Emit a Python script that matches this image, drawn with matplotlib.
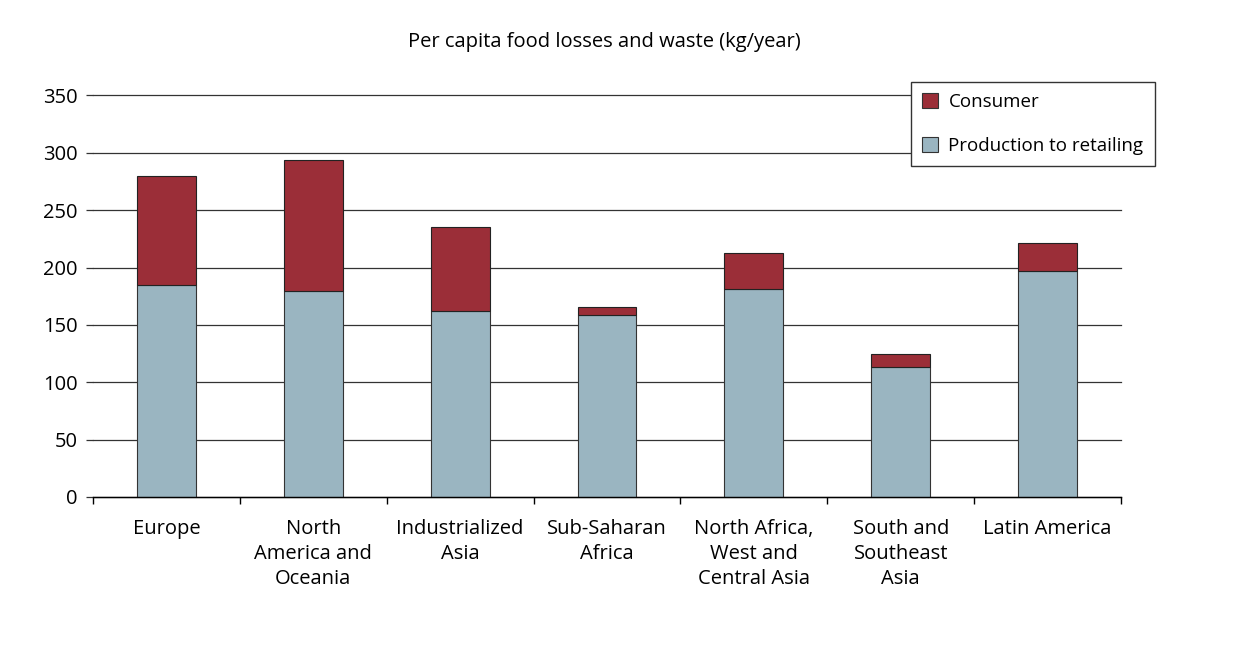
import matplotlib.pyplot as plt
from matplotlib.patches import Patch
import numpy as np

plt.rcParams['font.family'] = ['Open Sans', 'DejaVu Sans']

regions = ['Europe', 'North\nAmerica and\nOceania', 'Industrialized\nAsia',
           'Sub-Saharan\nAfrica', 'North Africa,\nWest and\nCentral Asia',
           'South and\nSoutheast\nAsia', 'Latin America']
production = [185, 180, 162, 159, 181, 113, 197]
consumer = [95, 114, 73, 7, 32, 12, 24]

red = '#9b2e38'
blue = '#9ab5c1'

fig = plt.figure(figsize=(12.44, 6.66), dpi=100)
ax = fig.add_axes([93 / 1244, 1 - 497 / 666, (1121 - 93) / 1244, (497 - 95.5) / 666])

x = np.arange(len(regions))
ax.bar(x, production, width=0.4, color=blue, edgecolor='#333333', linewidth=0.8, zorder=3)
ax.bar(x, consumer, width=0.4, bottom=production, color=red, edgecolor='#222222',
       linewidth=0.8, zorder=3)

ax.set_xlim(-0.5, len(regions) - 0.5)
ax.set_ylim(0, 350)
ax.set_yticks(range(0, 351, 50))
ax.yaxis.grid(True, color='#333333', linewidth=0.9, zorder=0)
for gl in ax.get_ygridlines():
    gl.set_clip_on(False)
for s in ['left', 'top', 'right']:
    ax.spines[s].set_visible(False)
ax.spines['bottom'].set_linewidth(1.0)
ax.spines['bottom'].set_zorder(4)

ax.set_xticks(np.arange(-0.5, len(regions), 1.0))
ax.set_xticklabels([])
ax.set_xticks(x, minor=True)
ax.set_xticklabels(regions, minor=True, fontsize=14.5, linespacing=1.32)
ax.tick_params(axis='x', which='major', length=5, width=1, direction='out')
ax.tick_params(axis='x', which='minor', length=0, pad=16)
ax.tick_params(axis='y', length=5, width=0.9, color='#333333', labelsize=14.5, pad=6)

fig.text(0.486, 1 - 42 / 666, 'Per capita food losses and waste (kg/year)',
         ha='center', va='center', fontsize=14.5)

handles = [Patch(facecolor=red, edgecolor='#333333', linewidth=0.8, label='Consumer'),
           Patch(facecolor=blue, edgecolor='#333333', linewidth=0.8,
                 label='Production to retailing')]
leg = fig.legend(handles=handles, loc='upper left', bbox_to_anchor=(911 / 1244, 1 - 82 / 666),
                 fontsize=13.5, frameon=True, fancybox=False, edgecolor='#333333',
                 framealpha=1, handlelength=0.85, handleheight=0.85, labelspacing=1.35,
                 borderpad=0.6, handletextpad=0.55, borderaxespad=0)
leg.get_frame().set_linewidth(1.0)
leg.set_zorder(10)

fig.savefig('out.png', dpi=100)
